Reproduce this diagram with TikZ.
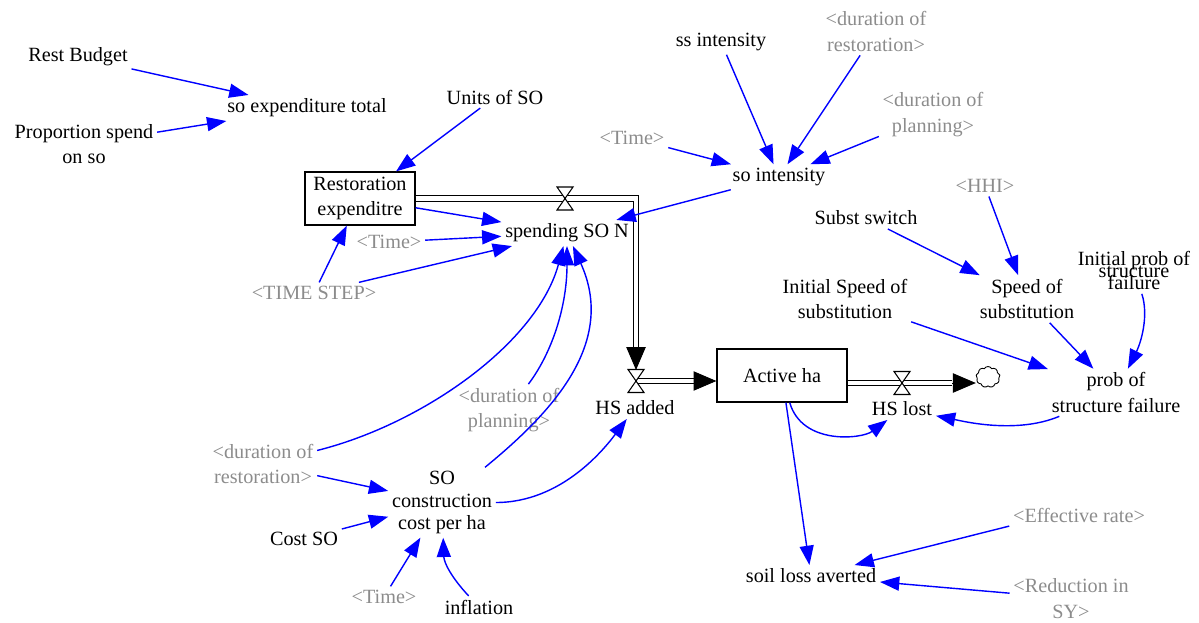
\documentclass[tikz,border=0pt]{standalone}
\usepackage{fontspec}
\setmainfont{Liberation Serif}
\usetikzlibrary{arrows.meta,shapes.symbols}
\definecolor{ghost}{RGB}{140,140,140}
\tikzset{
  var/.style={font=\fontsize{11.5}{14.5}\selectfont, align=center, inner sep=2pt},
  shadow/.style={var, text=ghost},
  stock/.style={var, draw, line width=0.7pt, minimum height=1.06cm},
  link/.style={blue, line width=0.8pt, -{Triangle[length=11pt,width=8pt]}},
  pipe/.style={double, double distance=2.4pt, line width=0.7pt},
  pipetip/.style={line width=0.5pt, -{Triangle[length=13pt,width=11pt]}},
  valve/.pic={\draw[fill=white, line width=0.6pt] (-8,-11.5) -- (8,-11.5) -- (-8,11.5) -- (8,11.5) -- cycle;}
}
\begin{document}
\begin{tikzpicture}[x=0.02cm, y=-0.02cm]
   \useasboundingbox (0,0) rectangle (1199,622);
   \node[var] (rb) at (78,57) {Rest Budget};
   \node[var] (pso) at (84,144) {Proportion spend\\on so};
   \node[var] (soet) at (307,108) {so expenditure total};
   \node[var] (uso) at (495,97) {Units of SO};
   \node[stock, minimum width=2.2cm] (rest) at (360,198.5) {Restoration\\expenditre};
   \node[var] (ssi) at (721,42) {ss intensity};
   \node[shadow] (dr1) at (876,31.5) {<duration of\\restoration>};
   \node[shadow] (dp1) at (933,114.5) {<duration of\\planning>};
   \node[shadow] (t1) at (632,138) {<Time>};
   \node[var] (soi) at (779,177) {so intensity};
   \node[var] (sson) at (567,233) {spending SO N};
   \node[shadow] (t2) at (389,242) {<Time>};
   \node[shadow] (tstep) at (314,293) {<TIME STEP>};
   \node[shadow] (hhi) at (985,186) {<HHI>};
   \node[var] (subst) at (866,218) {Subst switch};
   \node[var] (sos) at (1027,299) {Speed of\\substitution};
   \node[var, font={\fontsize{11.5}{7}\selectfont\lineskiplimit=-30pt}] (ipf) at (1134,270.5) {Initial prob of\\structure\\failure};
   \node[var] (iss) at (845,299) {Initial Speed of\\substitution};
   \node[var] (psf) at (1116,392.5) {prob of\\structure failure};
   \node[stock, minimum width=2.6cm] (act) at (782,375.5) {Active ha};
   \node[var] (hsa) at (635,408) {HS added};
   \node[var] (hsl) at (902,409) {HS lost};
   \node[cloud, draw, cloud puffs=9, cloud puff arc=120, aspect=1.2, minimum width=0.48cm, minimum height=0.42cm, inner sep=0pt, line width=0.5pt] (cld) at (988,377) {};
   \node[shadow] (dp2) at (509,410) {<duration of\\planning>};
   \node[shadow] (dr2) at (263,464) {<duration of\\restoration>};
   \node[var, font=\fontsize{11.5}{12.8}\selectfont] (socc) at (442,502.5) {SO\\construction\\cost per ha};
   \node[var] (cso) at (304,539) {Cost SO};
   \node[shadow] (t3) at (384,597) {<Time>};
   \node[var] (infl) at (479,607) {inflation};
   \node[var] (sla) at (811,576) {soil loss averted};
   \node[shadow] (eff) at (1079,515) {<Effective rate>};
   \node[shadow] (red) at (1071,598.5) {<Reduction in\\SY>};
   \coordinate (v1) at (565,198.5);
   \coordinate (a1) at (636,347);
   \coordinate (v2) at (636,381);
   \coordinate (v2top) at (636,370);
   \coordinate (a2) at (694,381);
   \coordinate (v3) at (902,383);
   \coordinate (a3) at (952,383);
   \draw[pipe] (rest.east) -- (rest.east -| a1) -- (a1);
   \draw[pipetip] (a1) -- (v2top);
   \draw[pipe] (v2) -- (a2);
   \draw[pipetip] (a2) -- (act.west |- a2);
   \draw[pipe] (act.east |- v3) -- (a3);
   \draw[pipetip] (a3) -- (cld.west |- a3);
   \pic at (v1) {valve};
   \pic at (v2) {valve};
   \pic at (v3) {valve};
   \draw[link] (rb) -- (soet);
   \draw[link] (pso) -- (soet);
   \draw[link] (uso) -- (rest);
   \draw[link] (ssi) -- (soi);
   \draw[link] (dr1) -- (soi);
   \draw[link] (dp1) -- (soi);
   \draw[link] (t1) -- (soi);
   \draw[link] (soi) -- (sson);
   \draw[link] (rest) -- (sson);
   \draw[link] (t2) -- (sson);
   \draw[link] (tstep) -- (sson);
   \draw[link] (tstep) -- (rest);
   \draw[link] (dr2) .. controls +(160,-40) and +(-30,110) .. (sson);
   \draw[link] (dp2) .. controls +(45,-60) and +(0,70) .. (sson);
   \draw[link] (socc) .. controls +(110,-90) and +(50,110) .. (sson);
   \draw[link] (socc) .. controls +(120,0) and +(-30,40) .. (hsa);
   \draw[link] (dr2) -- (socc);
   \draw[link] (cso) -- (socc);
   \draw[link] (t3) -- (socc);
   \draw[link] (infl) .. controls +(-28,-30) and +(2,60) .. (socc);
   \draw[link] (act) .. controls +(20,70) and +(-40,30) .. (hsl);
   \draw[link] (act) -- (sla);
   \draw[link] (psf) .. controls +(-100,42) and +(60,12) .. (hsl);
   \draw[link] (subst) -- (sos);
   \draw[link] (hhi) -- (sos);
   \draw[link] (iss) -- (psf);
   \draw[link] (sos) -- (psf);
   \draw[link] (ipf) .. controls +(15,45) and +(25,-50) .. (psf);
   \draw[link] (eff.south west) -- (sla);
   \draw[link] (red) -- (sla);
\end{tikzpicture}
\end{document}
